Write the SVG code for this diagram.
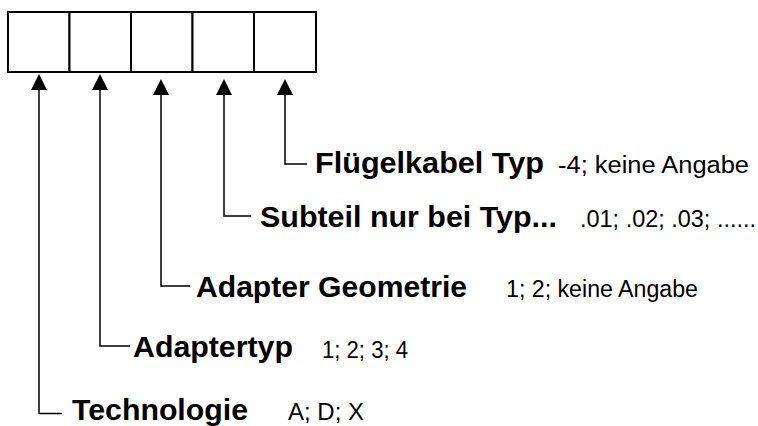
<svg xmlns="http://www.w3.org/2000/svg" width="758" height="426" viewBox="0 0 758 426">
<style>
.box{fill:#fff;stroke:#000;stroke-width:2}
.conn{fill:none;stroke:#000;stroke-width:1.5}
.lbl{font-family:"Liberation Sans",Arial,sans-serif;font-weight:bold;font-size:29px;fill:#000}
.val{font-family:"Liberation Sans",Arial,sans-serif;font-size:23px;fill:#000}
</style>
<defs>
<marker id="ah" markerUnits="userSpaceOnUse" markerWidth="16" markerHeight="16" refX="0" refY="8" orient="auto" viewBox="0 0 16 16">
<path d="M0,0 L16,8 L0,16 z" fill="#000"/>
</marker>
</defs>
<g id="code-boxes">
<rect class="box" x="8" y="12" width="61.5" height="60"/>
<rect class="box" x="69.5" y="12" width="61.5" height="60"/>
<rect class="box" x="131" y="12" width="61.5" height="60"/>
<rect class="box" x="192.5" y="12" width="61.5" height="60"/>
<rect class="box" x="254" y="12" width="62" height="60"/>
</g>
<g id="connectors">
<path class="conn" d="M62,413.5 H39 V90" marker-end="url(#ah)"/>
<path class="conn" d="M130,346 H100 V90" marker-end="url(#ah)"/>
<path class="conn" d="M190,286 H161 V95" marker-end="url(#ah)"/>
<path class="conn" d="M251,216 H224 V95" marker-end="url(#ah)"/>
<path class="conn" d="M307,164 H285 V95" marker-end="url(#ah)"/>
</g>
<g id="technologie">
<text class="lbl" x="72" y="420" textLength="176" lengthAdjust="spacingAndGlyphs">Technologie</text>
<text class="val" x="288" y="420" textLength="76" lengthAdjust="spacingAndGlyphs">A; D; X</text>
</g>
<g id="adaptertyp">
<text class="lbl" x="133" y="357" textLength="160" lengthAdjust="spacingAndGlyphs">Adaptertyp</text>
<text class="val" x="322" y="358" textLength="86" lengthAdjust="spacingAndGlyphs">1; 2; 3; 4</text>
</g>
<g id="adapter-geometrie">
<text class="lbl" x="196" y="297" textLength="271" lengthAdjust="spacingAndGlyphs">Adapter Geometrie</text>
<text class="val" x="506" y="297" textLength="192" lengthAdjust="spacingAndGlyphs">1; 2; keine Angabe</text>
</g>
<g id="subteil">
<text class="lbl" x="260" y="227" textLength="297" lengthAdjust="spacingAndGlyphs">Subteil nur bei Typ...</text>
<text class="val" x="580" y="227" textLength="176" lengthAdjust="spacingAndGlyphs">.01; .02; .03; ......</text>
</g>
<g id="fluegelkabel">
<text class="lbl" x="315" y="173" textLength="229" lengthAdjust="spacingAndGlyphs">Flügelkabel Typ</text>
<text class="val" x="558" y="173" textLength="191" lengthAdjust="spacingAndGlyphs">-4; keine Angabe</text>
</g>
</svg>
